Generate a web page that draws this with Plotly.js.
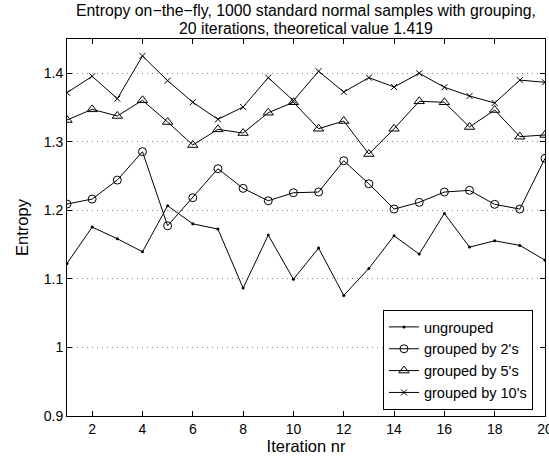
<!DOCTYPE html>
<html>
<head>
<meta charset="utf-8">
<script src="https://cdn.plot.ly/plotly-3.0.1.min.js"></script>
<style>html,body{margin:0;padding:0;background:#fff;}#chart{width:549px;height:456px;}</style>
</head>
<body>
<div id="chart"></div>
<script>
const iterations = [1,2,3,4,5,6,7,8,9,10,11,12,13,14,15,16,17,18,19,20];
const ungrouped = [1.1226,1.1756,1.1586,1.1396,1.2067,1.1804,1.1727,1.0866,1.1639,1.0995,1.1450,1.0759,1.1153,1.1629,1.1362,1.1956,1.1464,1.1556,1.1489,1.1274];
const grouped2 = [1.2092,1.2165,1.2442,1.2856,1.1775,1.2184,1.2608,1.2321,1.2140,1.2257,1.2267,1.2724,1.2388,1.2019,1.2117,1.2267,1.2292,1.2088,1.2019,1.2759];
const grouped5 = [1.3318,1.3474,1.3377,1.3606,1.3289,1.2953,1.3182,1.3128,1.3425,1.3577,1.3191,1.3304,1.2822,1.3190,1.3591,1.3577,1.3216,1.3464,1.3075,1.3100];
const grouped10 = [1.3717,1.3956,1.3629,1.4253,1.3892,1.3577,1.3328,1.3508,1.3936,1.3600,1.4029,1.3727,1.3936,1.3800,1.4000,1.3796,1.3669,1.3566,1.3900,1.3869];
const seriesNames = ["ungrouped","grouped by 2's","grouped by 5's","grouped by 10's"];
const titleLines = ['Entropy on\u2212the\u2212fly, 1000 standard normal samples with grouping,', '20 iterations, theoretical value 1.419'];

const fam = 'Liberation Sans, Arial, Helvetica, sans-serif';
const font = {family: fam, size: 14, color: '#000'};
const lineStyle = {color: '#000', width: 1};

const traces = [
  {x: iterations, y: ungrouped, name: seriesNames[0], mode: 'lines+markers', line: lineStyle,
   marker: {symbol: 'circle', size: 3, color: '#000'}},
  {x: iterations, y: grouped2, name: seriesNames[1], mode: 'lines+markers', line: lineStyle,
   marker: {symbol: 'circle-open', size: 8, color: '#000', line: {width: 1, color: '#000'}}},
  {x: iterations, y: grouped5, name: seriesNames[2], mode: 'lines+markers', line: lineStyle,
   marker: {symbol: 'triangle-up-open', size: 9, color: '#000', line: {width: 1, color: '#000'}}},
  {x: iterations, y: grouped10, name: seriesNames[3], mode: 'lines+markers', line: lineStyle,
   marker: {symbol: 'x-thin-open', size: 6, color: '#000', line: {width: 1, color: '#000'}}}
];

const titleShifts = [29, 11];
const layout = {
  width: 549, height: 456,
  margin: {l: 67, r: 4, t: 39, b: 40},
  paper_bgcolor: '#fff', plot_bgcolor: '#fff',
  font: font,
  annotations: titleLines.map((t, i) => ({text: t, xref: 'paper', yref: 'paper', x: 0.5, y: 1,
                 xanchor: 'center', yanchor: 'middle', yshift: titleShifts[i], showarrow: false,
                 font: {family: fam, size: 15.8, color: '#000'}})),
  xaxis: {range: [1, 20], tick0: 0, dtick: 2, ticks: 'inside', ticklen: 5, tickcolor: '#000',
          showline: true, linecolor: '#000', linewidth: 1, mirror: 'ticks', showgrid: false, zeroline: false,
          ticklabeloverflow: 'allow',
          title: {text: 'Iteration nr', font: {family: fam, size: 16.5, color: '#000'}, standoff: 0},
          tickfont: font},
  yaxis: {range: [0.9, 1.45], tick0: 0.9, dtick: 0.1, ticks: 'inside', ticklen: 5, tickcolor: '#000',
          showline: true, linecolor: '#000', linewidth: 1, mirror: 'ticks', zeroline: false,
          showgrid: true, gridcolor: '#888', griddash: '1px,4px', gridwidth: 1,
          title: {text: 'Entropy', font: {family: fam, size: 16.5, color: '#000'}, standoff: 10},
          tickfont: font},
  legend: {x: 0.661, y: 0.016, xanchor: 'left', yanchor: 'bottom', bgcolor: '#fff', bordercolor: '#000',
           borderwidth: 1, font: {family: fam, size: 14.5, color: '#000'}, tracegroupgap: 0,
           itemwidth: 30},
  showlegend: true
};

Plotly.newPlot('chart', traces, layout, {staticPlot: true, displayModeBar: false});
</script>
</body>
</html>
